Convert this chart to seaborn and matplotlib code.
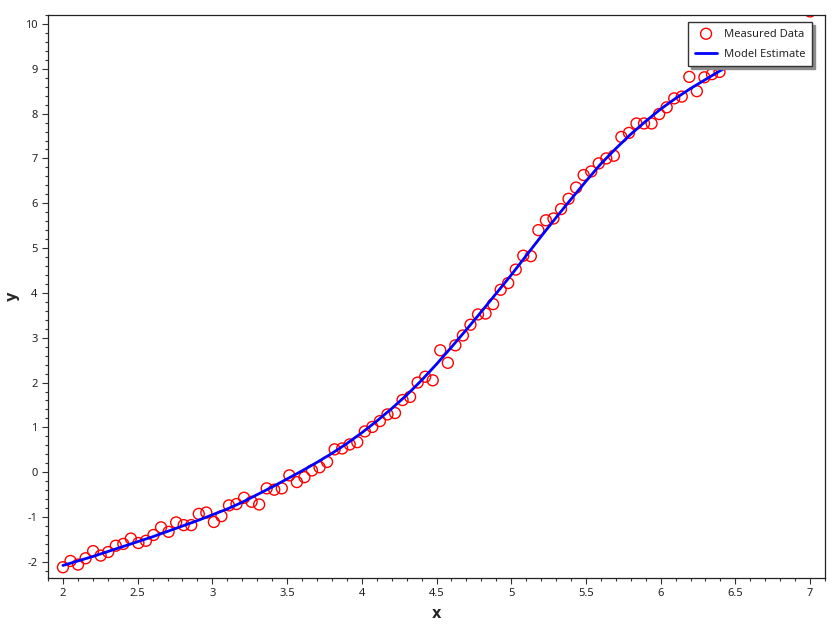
import numpy as np
import pandas as pd
import seaborn as sns
import matplotlib
matplotlib.use("Agg")
import matplotlib.pyplot as plt
from matplotlib.ticker import MultipleLocator, FuncFormatter

# measured points, evenly spaced over [2, 7] (100 samples)
x_measured = np.linspace(2, 7, 100)
y_measured = [
    -2.12, -1.98, -2.06, -1.92, -1.76, -1.86, -1.78, -1.64, -1.60, -1.48,
    -1.58, -1.53, -1.40, -1.23, -1.33, -1.12, -1.18, -1.18, -0.93, -0.90,
    -1.11, -0.98, -0.74, -0.71, -0.57, -0.66, -0.72, -0.36, -0.39, -0.36,
    -0.07, -0.22, -0.11, 0.04, 0.11, 0.23, 0.51, 0.53, 0.62, 0.67,
    0.91, 1.01, 1.14, 1.29, 1.32, 1.61, 1.68, 2.00, 2.13, 2.05,
    2.72, 2.44, 2.83, 3.05, 3.29, 3.52, 3.54, 3.75, 4.07, 4.22,
    4.52, 4.83, 4.82, 5.40, 5.62, 5.66, 5.87, 6.10, 6.35, 6.63,
    6.71, 6.89, 7.00, 7.06, 7.48, 7.57, 7.78, 7.78, 7.78, 7.99,
    8.14, 8.34, 8.38, 8.82, 8.50, 8.81, 8.88, 8.93, 9.12, 9.20,
    9.31, 9.33, 9.45, 9.48, 9.60, 9.58, 9.70, 9.73, 9.80, 10.28,
]

# model curve every 0.1
x_model = np.round(np.arange(2.0, 7.0001, 0.1), 1)
y_model = [
    -2.08, -1.98, -1.88, -1.77, -1.66, -1.55, -1.44, -1.32, -1.20, -1.08,
    -0.95, -0.82, -0.67, -0.50, -0.33, -0.15, 0.03, 0.22, 0.42, 0.64,
    0.88, 1.14, 1.42, 1.72, 2.05, 2.41, 2.79, 3.18, 3.58, 3.99,
    4.40, 4.83, 5.26, 5.68, 6.09, 6.49, 6.88, 7.22, 7.54, 7.83,
    8.10, 8.34, 8.56, 8.76, 8.96, 9.13, 9.29, 9.43, 9.56, 9.68, 9.79,
]

measured = pd.DataFrame({"x": x_measured, "y": y_measured})
model = pd.DataFrame({"x": x_model, "y": y_model})

sns.set_style("ticks")
plt.rcParams['font.family'] = ['Noto Sans', 'DejaVu Sans']

W, H = 840, 630
fig = plt.figure(figsize=(W / 100, H / 100), dpi=100)
left, right, top, bottom = 48, 825, 15, 578
ax = fig.add_axes([left / W, 1 - bottom / H, (right - left) / W, (bottom - top) / H])

sns.scatterplot(data=measured, x="x", y="y", ax=ax, marker="o", s=62,
                facecolors="none", edgecolors="red", linewidths=1.0,
                label="Measured Data", zorder=2)
sns.lineplot(data=model, x="x", y="y", ax=ax, color="blue", linewidth=2,
             label="Model Estimate", zorder=3)

ax.set_xlim(1.9, 7.1)
ax.set_ylim(-2.36, 10.2)
ax.xaxis.set_major_locator(MultipleLocator(0.5))
ax.xaxis.set_minor_locator(MultipleLocator(0.1))
ax.yaxis.set_major_locator(MultipleLocator(1))
ax.yaxis.set_minor_locator(MultipleLocator(0.2))
fmt = FuncFormatter(lambda v, p: f"{v:g}")
ax.xaxis.set_major_formatter(fmt)
ax.yaxis.set_major_formatter(fmt)
ax.tick_params(which="major", length=4, width=0.8, color="#333333",
               labelsize=8, labelcolor="#222222", direction="out")
ax.tick_params(which="minor", length=2.5, width=0.8, color="#333333", direction="out")

for s in ax.spines.values():
    s.set_visible(True)
    s.set_color("#222222")
    s.set_linewidth(0.9)

ax.set_xlabel("x", fontsize=10.5, fontweight="bold", family="DejaVu Sans")
ax.set_ylabel("y", fontsize=10.5, fontweight="bold", family="DejaVu Sans")
ax.xaxis.set_label_coords(0.5, -(606 - bottom) / (bottom - top))
ax.yaxis.set_label_coords(-(left - 20) / (right - left), 0.5)

leg = ax.legend(loc="upper right",
                bbox_to_anchor=((812 - left) / (right - left), (bottom - 22) / (bottom - top)),
                borderaxespad=0, fontsize=8, frameon=True, fancybox=False,
                shadow={"color": "0.55", "alpha": 1.0}, framealpha=1,
                edgecolor="#333333", borderpad=0.6, labelspacing=0.8,
                handlelength=2.0, handletextpad=0.6)
leg.get_frame().set_linewidth(1.0)
leg.set_zorder(10)

fig.savefig("out.png", dpi=100)
